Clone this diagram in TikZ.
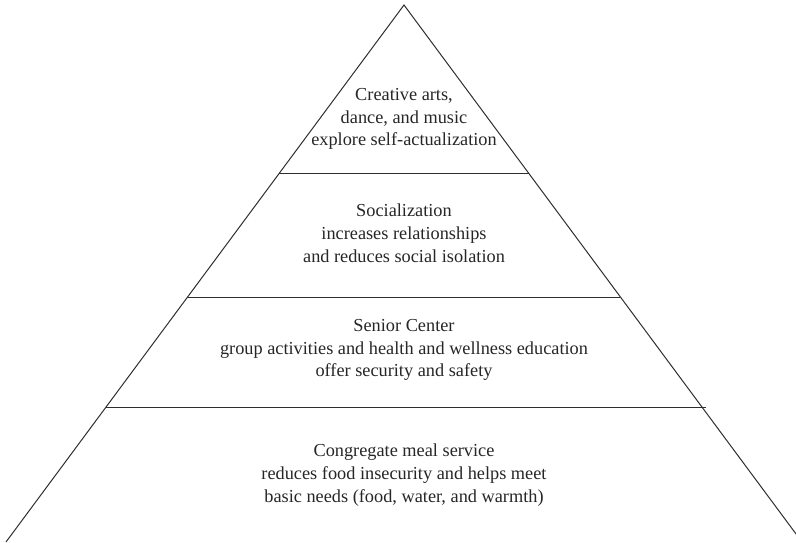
\documentclass[tikz,border=0pt]{standalone}
\usepackage{fontspec}
\setmainfont{Liberation Serif}
\begin{document}
\begin{tikzpicture}[x=1pt,y=-1pt,
  edge/.style={draw=black!82,line width=1pt},
  tier/.style={align=center,font=\fontsize{18.3}{22.8}\selectfont,text=black!85,inner sep=0pt}]
\useasboundingbox (0,0) rectangle (796,542);
\clip (0,0) rectangle (796,542);
\coordinate (apex) at (404,5);
\coordinate (bl) at (6,542);
\coordinate (br) at (802,542);
\draw[edge] (bl) -- (apex) -- (br);
\coordinate (d1l) at (279,173);
\coordinate (d1r) at (529,173);
\coordinate (d2l) at (187,297);
\coordinate (d2r) at (620,297);
\coordinate (d3l) at (106,407);
\coordinate (d3r) at (706,407);
\draw[edge] (d1l) -- (d1r);
\draw[edge] (d2l) -- (d2r);
\draw[edge] (d3l) -- (d3r);
\node[tier] (t1) at (404,119) {Creative arts,\\dance, and music\\explore self-actualization};
\node[tier] (t2) at (404,233) {Socialization\\increases relationships\\and reduces social isolation};
\node[tier] (t3) at (404,350) {Senior Center\\group activities and health and wellness education\\offer security and safety};
\node[tier] (t4) at (404,475) {Congregate meal service\\reduces food insecurity and helps meet\\basic needs (food, water, and warmth)};
\end{tikzpicture}
\end{document}
